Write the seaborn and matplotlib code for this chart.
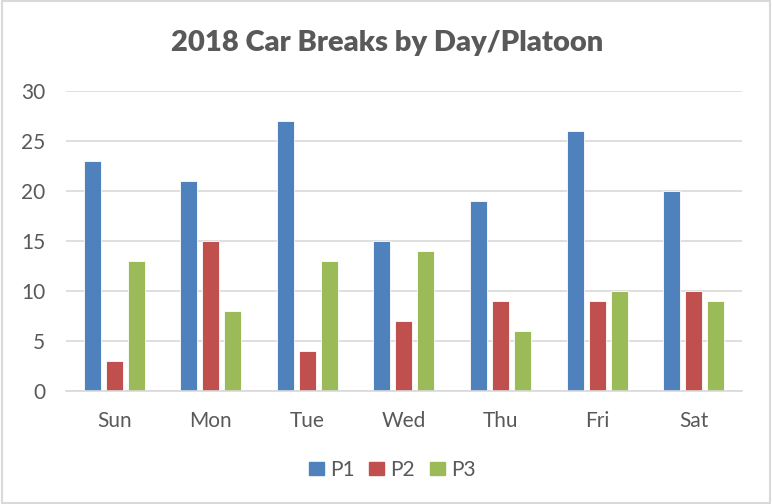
import pandas as pd
import matplotlib.pyplot as plt
import seaborn as sns
from matplotlib.patches import Rectangle

# ---------------- data ----------------
days = ["Sun", "Mon", "Tue", "Wed", "Thu", "Fri", "Sat"]
p1 = [23, 21, 27, 15, 19, 26, 20]
p2 = [3, 15, 4, 7, 9, 9, 10]
p3 = [13, 8, 13, 14, 6, 10, 9]
platoons = ["P1", "P2", "P3"]
colors = ["#4F81BD", "#C0504D", "#9BBB59"]

df = pd.DataFrame({"Day": days, "P1": p1, "P2": p2, "P3": p3})
df = df.melt(id_vars="Day", var_name="Platoon", value_name="Breaks")

# ---------------- style ----------------
sns.set_theme(style="white")
plt.rcParams['font.family'] = ['Lato', 'DejaVu Sans']
text_col = "#595959"
grid_col = "#D9D9D9"

fig = plt.figure(figsize=(7.72, 5.04), dpi=100)
ax = fig.add_axes([0.0855, 0.224, 0.8755, 0.5954])

sns.barplot(data=df, x="Day", y="Breaks", hue="Platoon", order=days,
            hue_order=platoons, palette=colors, width=0.684, gap=0.23,
            edgecolor="white", linewidth=0.6, saturation=1, ax=ax, legend=False)

ax.set_ylim(0, 30)
ax.set_yticks(range(0, 31, 5))
ax.set_xlim(-0.5, len(days) - 0.5)
ax.yaxis.grid(True, color=grid_col, linewidth=1.2)
ax.set_axisbelow(True)
for s in ["top", "right", "left"]:
    ax.spines[s].set_visible(False)
ax.spines["bottom"].set_color(grid_col)
ax.spines["bottom"].set_linewidth(1.2)
ax.tick_params(axis="both", length=0, labelsize=15, labelcolor=text_col)
ax.tick_params(axis="x", pad=14)
ax.tick_params(axis="y", pad=15)
ax.set_xlabel("")
ax.set_ylabel("")

fig.text(0.502, 0.915, "2018 Car Breaks by Day/Platoon", ha="center", va="center",
         fontsize=21, fontweight="heavy", color=text_col)

handles = [Rectangle((0, 0), 1, 1, color=c) for c in colors]
fig.legend(handles, platoons, loc="center", bbox_to_anchor=(0.508, 0.067), ncol=3,
           frameon=False, fontsize=15, labelcolor=text_col, handlelength=0.72,
           handleheight=0.58, handletextpad=0.3, columnspacing=0.7)

# outer chart border
fig.patches.append(Rectangle((0.002, 0.002), 0.996, 0.996, transform=fig.transFigure,
                             fill=False, edgecolor=grid_col, linewidth=1.5))

fig.savefig("out.png", dpi=100)
